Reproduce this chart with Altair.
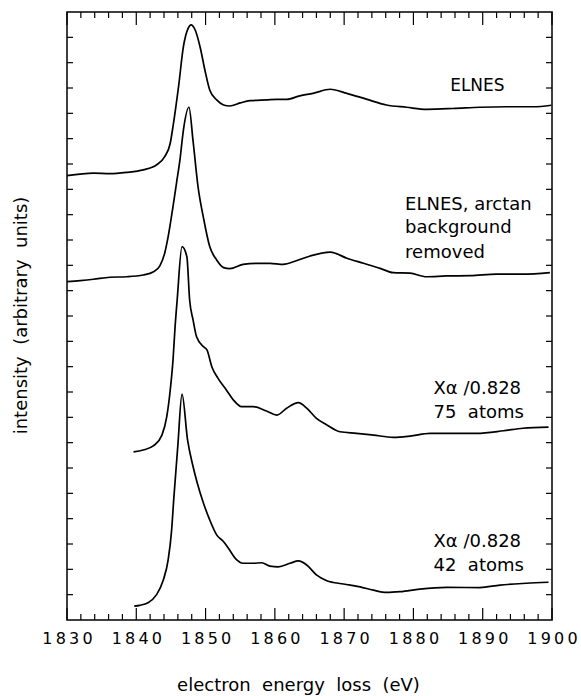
import altair as alt
import pandas as pd

# ---- curve data (energy in eV, intensity in arbitrary units) ----
E_elnes = [1830.0, 1833.8, 1836.2, 1838.6, 1841.0, 1842.9, 1844.1, 1844.9, 1845.3, 1846.1,
           1846.8, 1847.5, 1847.9, 1848.5, 1849.2, 1849.9, 1850.6, 1851.6, 1852.6, 1853.5,
           1855.0, 1856.4, 1858.8, 1860.3, 1861.7, 1863.6, 1865.5, 1868.0, 1870.4, 1873.2,
           1876.1, 1879.0, 1881.9, 1885.7, 1889.6, 1893.4, 1897.3, 1899.9]
I_elnes = [17.54, 17.64, 17.62, 17.67, 17.77, 17.96, 18.29, 18.82, 19.48, 21.05,
           22.63, 23.36, 23.49, 23.29, 22.63, 21.71, 20.92, 20.53, 20.33, 20.29,
           20.41, 20.50, 20.53, 20.55, 20.55, 20.69, 20.79, 20.95, 20.79, 20.56,
           20.33, 20.24, 20.16, 20.19, 20.24, 20.26, 20.26, 20.32]

E_arctan = [1830.0, 1831.9, 1833.8, 1836.2, 1838.6, 1841.0, 1842.5, 1843.4, 1844.1, 1844.6,
            1845.3, 1845.8, 1846.3, 1846.8, 1847.6, 1848.2, 1848.9, 1849.7, 1850.6, 1851.6,
            1852.6, 1853.5, 1855.4, 1857.4, 1859.3, 1861.2, 1863.1, 1865.1, 1868.0, 1870.4,
            1872.8, 1875.2, 1877.1, 1879.5, 1881.9, 1884.8, 1888.2, 1892.0, 1895.8, 1899.7]
I_arctan = [13.36, 13.40, 13.45, 13.53, 13.55, 13.62, 13.75, 13.98, 14.48, 15.13,
            16.32, 17.24, 18.16, 19.34, 20.24, 18.89, 17.13, 15.87, 14.74, 14.21,
            13.91, 13.87, 14.04, 14.08, 14.08, 14.04, 14.18, 14.37, 14.52, 14.28,
            14.08, 13.88, 13.71, 13.69, 13.55, 13.58, 13.59, 13.65, 13.65, 13.71]

E_x75 = [1839.6, 1841.0, 1842.5, 1843.7, 1844.4, 1844.9, 1845.3, 1845.6, 1845.9, 1846.6,
         1847.3, 1847.7, 1848.2, 1848.7, 1849.7, 1850.2, 1850.9, 1851.8, 1853.0, 1854.0,
         1855.2, 1856.9, 1858.8, 1860.3, 1861.7, 1863.4, 1864.6, 1866.0, 1867.5, 1869.4,
         1871.8, 1874.2, 1877.1, 1879.5, 1882.4, 1886.2, 1889.1, 1893.0, 1895.8, 1899.5]
I_x75 = [6.64, 6.71, 6.88, 7.30, 8.03, 9.08, 10.26, 11.58, 12.63, 14.74,
         14.34, 12.63, 11.84, 11.18, 10.79, 10.66, 10.00, 9.54, 9.08, 8.69,
         8.42, 8.42, 8.25, 8.09, 8.36, 8.58, 8.36, 7.96, 7.70, 7.43,
         7.37, 7.30, 7.21, 7.26, 7.37, 7.37, 7.37, 7.47, 7.57, 7.61]

E_x42 = [1839.7, 1840.5, 1841.7, 1842.9, 1843.9, 1844.6, 1845.1, 1845.4, 1846.0,
         1846.6, 1847.4, 1848.2, 1848.8, 1849.7, 1850.6, 1851.6, 1852.6, 1853.3, 1854.5,
         1855.4, 1856.9, 1858.1, 1859.3, 1860.5, 1862.2, 1863.4, 1864.6, 1866.0, 1867.5,
         1869.9, 1872.3, 1874.2, 1876.1, 1878.1, 1880.9, 1884.8, 1889.6, 1892.5, 1896.3, 1899.5]
I_x42 = [0.55, 0.58, 0.68, 0.99, 1.58, 2.37, 3.55, 4.74, 6.90,
         8.92, 7.11, 6.05, 5.41, 4.61, 3.95, 3.36, 3.09, 2.83, 2.37,
         2.24, 2.24, 2.26, 2.13, 2.10, 2.24, 2.33, 2.17, 1.78, 1.55,
         1.42, 1.31, 1.18, 1.09, 1.12, 1.22, 1.29, 1.28, 1.38, 1.45, 1.49]

series_names = ["ELNES", "ELNES arctan", "Xa 75", "Xa 42"]
series_E = [E_elnes, E_arctan, E_x75, E_x42]
series_I = [I_elnes, I_arctan, I_x75, I_x42]

SP = "\u00a0 "  # wide gap between words, as in the original typesetting

# ---- annotation labels ----
label_text = ["ELNES, arctan", "background", "removed",
              "X\u03b1 /0.828", "75" + SP + "atoms", "X\u03b1 /0.828", "42" + SP + "atoms"]
label_E = [1878.8, 1878.8, 1878.8, 1882.9, 1882.9, 1882.9, 1882.9]
label_I = [16.19, 15.26, 14.27, 8.92, 7.96, 2.89, 1.95]
top_label_text = ["ELNES"]
top_label_E = [1885.3]
top_label_I = [20.88]

# ---- axis ticks ----
x_major = [1830, 1840, 1850, 1860, 1870, 1880, 1890, 1900]
x_minor = [v for v in range(1832, 1900, 2) if v % 10 != 0]
y_ticks = list(range(1, 24))

x_title = "electron" + SP + "energy" + SP + "loss" + SP + "(eV)"
y_title = "intensity" + SP + "(arbitrary" + SP + "units)"

W, H = 485, 608
rows = []
for name, es, ins in zip(series_names, series_E, series_I):
    for e, i in zip(es, ins):
        rows.append({"series": name, "E": e, "I": i})
df = pd.DataFrame(rows)

xscale = alt.Scale(domain=[1830, 1900], nice=False)
yscale = alt.Scale(domain=[0, 24], nice=False, zero=False)
FONT = "DejaVu Sans"

lines = alt.Chart(df).mark_line(color="black", strokeWidth=1.7, interpolate="monotone").encode(
    x=alt.X("E:Q", scale=xscale,
            axis=alt.Axis(values=x_major, format="d", ticks=False, domain=False, grid=False,
                          labelExpr="join(split(datum.label, ''), '\u2009')",
                          labelFont=FONT, labelFontSize=16, labelColor="black",
                          labelPadding=10, labelFlush=False,
                          title=x_title, titleFont=FONT,
                          titleFontSize=18, titleFontWeight="normal", titleColor="black",
                          titleX=231, titleY=70, titleBaseline="alphabetic")),
    y=alt.Y("I:Q", scale=yscale,
            axis=alt.Axis(labels=False, ticks=False, domain=False, grid=False,
                          title=y_title, titleFont=FONT,
                          titleFontSize=18, titleFontWeight="normal", titleColor="black",
                          titleX=-41, titleY=303, titleBaseline="alphabetic", titleAngle=270)),
    detail="series:N",
)

xmaj = pd.DataFrame({"E": x_major})
xmin = pd.DataFrame({"E": x_minor})
ydf = pd.DataFrame({"I": y_ticks})

def xt(data, y0, y1):
    return alt.Chart(data).mark_rule(color="black", strokeWidth=1.2).encode(
        x=alt.X("E:Q", scale=xscale), y=alt.value(y0), y2=alt.value(y1))

def yt(x0, x1):
    return alt.Chart(ydf).mark_rule(color="black", strokeWidth=1.2).encode(
        y=alt.Y("I:Q", scale=yscale), x=alt.value(x0), x2=alt.value(x1))

ticks = [xt(xmaj, H, H - 12), xt(xmin, H, H - 6), xt(xmaj, 0, 13), xt(xmin, 0, 6),
         yt(0, 6), yt(W, W - 6)]

labels = alt.Chart(pd.DataFrame({"t": label_text, "E": label_E, "I": label_I})).mark_text(
    align="left", baseline="alphabetic", font=FONT, fontSize=18, color="black").encode(
    x=alt.X("E:Q", scale=xscale), y=alt.Y("I:Q", scale=yscale), text="t:N")

top_label = alt.Chart(pd.DataFrame({"t": top_label_text, "E": top_label_E, "I": top_label_I})).mark_text(
    align="left", baseline="alphabetic", font=FONT, fontSize=17, color="black").encode(
    x=alt.X("E:Q", scale=xscale), y=alt.Y("I:Q", scale=yscale), text="t:N")

chart = alt.layer(lines, *ticks, labels, top_label).properties(
    width=W, height=H,
    autosize=alt.AutoSizeParams(type="none"),
    padding={"left": 67, "top": 12, "right": 29, "bottom": 76},
    background="white",
).configure_view(stroke="black", strokeWidth=1.5)

chart.save("out.html", embed_options={"renderer": "svg", "actions": False})
